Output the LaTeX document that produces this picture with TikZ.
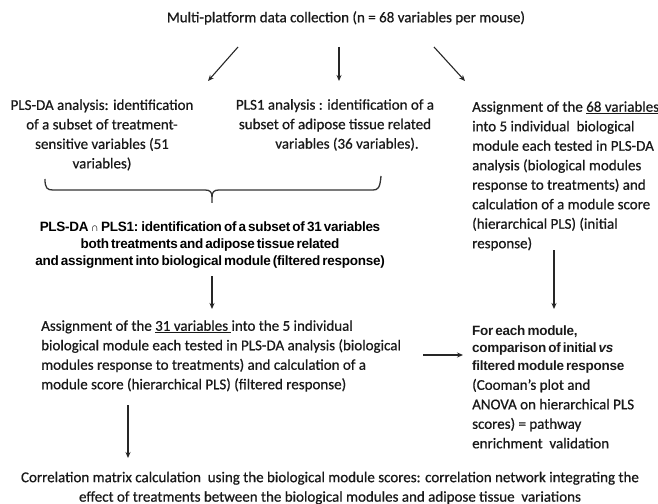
\documentclass[tikz,border=0pt]{standalone}
\usepackage{fontspec}
\setmainfont{Carlito}[FakeBold=0.6]
\newfontfamily\arialfam[LetterSpace=-2,WordSpace=0.6]{Liberation Sans}
\newfontfamily\capfam{Liberation Sans}
\newcommand\bfont{\arialfam\bfseries\fontsize{13.5bp}{17bp}\selectfont}
\usetikzlibrary{arrows.meta}
\tikzset{
  txt/.style={inner sep=0pt, font=\fontsize{15bp}{19.5bp}\selectfont, text=black!90},
  arr/.style={line width=1.1bp, draw=black!85, -{Stealth[length=6bp,width=5bp]}},
  bracestyle/.style={line width=1.3bp, draw=black!80}
}
\begin{document}
\begin{tikzpicture}[x=1bp,y=-1bp]
\path[fill=white,use as bounding box] (0,0) rectangle (658,504);

\node[txt] (title) at (346,18) {Multi-platform data collection (n = 68 variables per mouse)};

\node[txt, align=center] (pa) at (102,135) {PLS-DA analysis: identification\\ of a subset of treatment-\\ sensitive variables (51\\ variables)};

\node[txt, align=center] (pb) at (335,125) {PLS1 analysis : identification of a\\ subset of adipose tissue related\\ \hspace*{24bp}variables (36 variables).};

\node[txt, align=left, anchor=west] (pc) at (472,176) {Assignment of the \underline{68 variables}\\ into 5 individual\ \ biological\\ module each tested in PLS-DA\\ analysis (biological modules\\ response to treatments) and\\ calculation of a module score\\ (hierarchical PLS) (initial\\ response)};

\node[inner sep=0pt, align=center, font=\bfont] (pd) at (210,245) {PLS-DA\,{\capfam\mdseries\fontsize{11bp}{13bp}\selectfont ∩}\,PLS1: identification of a subset of 31 variables\\ both treatments and adipose tissue related\\ and assignment into biological module (filtered response)};

\node[txt, align=left, anchor=west] (pe) at (41,356) {Assignment of the \underline{31 variables\ }into the 5 individual\\ biological module each tested in PLS-DA analysis (biological\\ modules response to treatments) and calculation of a\\ module score (hierarchical PLS) (filtered response)};

\node[txt, align=left, anchor=west] (pf) at (472,387) {{\bfont For each module,}\\[-2bp] {\bfont comparison of initial \textit{vs}}\\[-2bp] {\bfont filtered module response}\\ (Cooman’s plot and\\ ANOVA on hierarchical PLS\\ scores) = pathway\\ enrichment\ \ validation};

\node[txt, align=center] (pg) at (330,488) {Correlation matrix calculation\ \ using the biological module scores: correlation network integrating the\\ effect of treatments between the biological modules and adipose tissue\ \ variations};

% arrow end points
\coordinate (t1s) at (238,47);
\coordinate (t1e) at (208,81);
\coordinate (t2s) at (339,47);
\coordinate (t2e) at (339,81);
\coordinate (t3s) at (434,47);
\coordinate (t3e) at (465,81);
\coordinate (d1s) at (212,276);
\coordinate (d1e) at (212,309);
\coordinate (c1s) at (554,250);
\coordinate (c1e) at (554,309);
\coordinate (h1s) at (423,355);
\coordinate (h1e) at (463,355);
\coordinate (e1s) at (128,405);
\coordinate (e1e) at (128,458);

\draw[arr] (t1s) -- (t1e);
\draw[arr] (t2s) -- (t2e);
\draw[arr] (t3s) -- (t3e);
\draw[arr] (d1s) -- (d1e);
\draw[arr] (c1s) -- (c1e);
\draw[arr] (h1s) -- (h1e);
\draw[arr] (e1s) -- (e1e);

% brace
\coordinate (bL) at (45,179);
\coordinate (bR) at (381,176);
\coordinate (bM) at (212,197);
\coordinate (bT) at (212,203);
\draw[bracestyle] (bL) .. controls (45,188) and (47,190) .. (53,190) -- (205,190) .. controls (210,190) and (212,192) .. (bM) -- (bT);
\draw[bracestyle] (bM) .. controls (212,192) and (214,190) .. (219,190) -- (373,190) .. controls (378,190) and (380,188) .. (bR);
\end{tikzpicture}
\end{document}
